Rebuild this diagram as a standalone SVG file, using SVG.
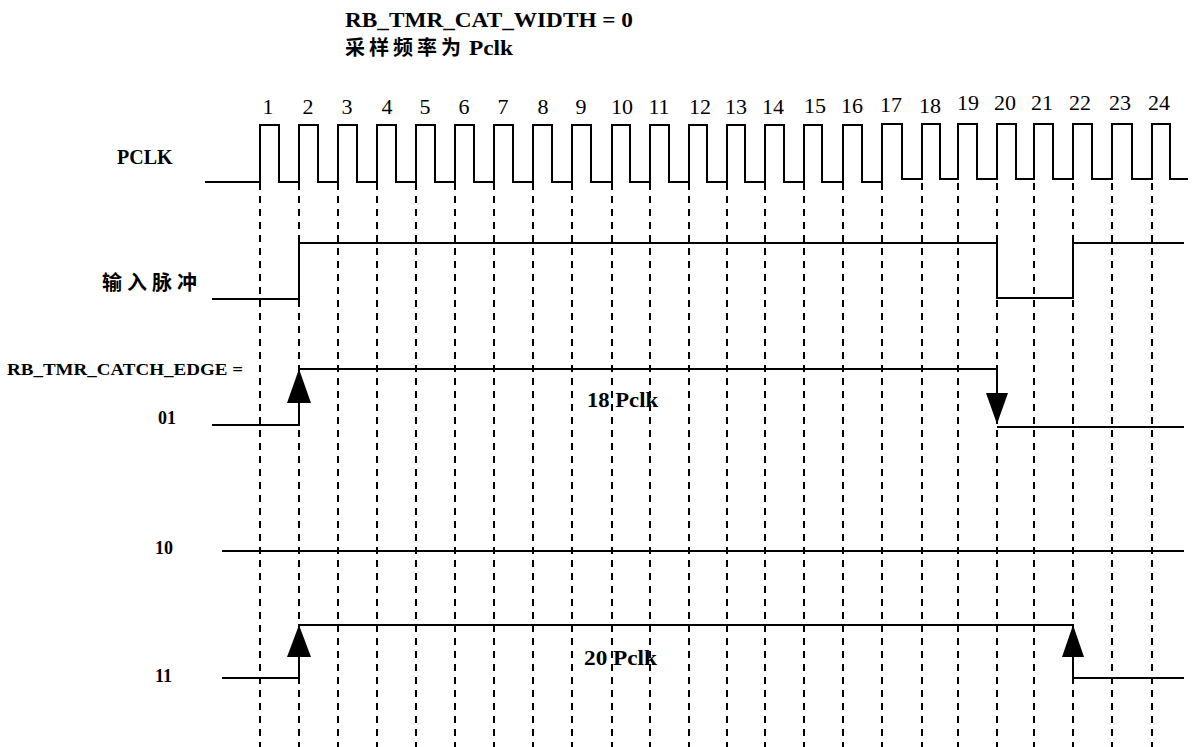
<svg xmlns="http://www.w3.org/2000/svg" width="1196" height="747" viewBox="0 0 1196 747">
<style>
.bg{fill:#fff}
.sig{fill:none;stroke:#000;stroke-width:2;stroke-linejoin:miter}
.grid{fill:none;stroke:#000;stroke-width:2;stroke-dasharray:7 6}
.num{font-family:"Liberation Serif","Times New Roman",serif;font-size:22px;fill:#000;text-anchor:middle}
.lbl{font-family:"Liberation Serif","Times New Roman",serif;font-weight:bold;fill:#000}
.cjk{font-family:"Liberation Serif","Noto Sans CJK SC",serif;font-weight:bold;fill:#000}
.head{fill:#000;stroke:none}
</style>
<rect class="bg" x="0" y="0" width="1196" height="747"/>
<g id="title">
<text class="lbl" x="345" y="27" font-size="21" textLength="288" lengthAdjust="spacingAndGlyphs">RB_TMR_CAT_WIDTH = 0</text>
<text class="cjk" x="345" y="55" font-size="20" letter-spacing="4">采样频率为</text>
<text class="lbl" x="469" y="55" font-size="22" textLength="44" lengthAdjust="spacingAndGlyphs">Pclk</text>
</g>
<g id="grid">
<path class="grid" d="M260,183V747M299,183V747M338,183V747M377,183V747M416,183V747M455,183V747M494,183V747M533,183V747M572,183V747M612,183V747M650,183V747M689,183V747M727,183V747M765,183V747M804,183V747M843,183V747M882,183V747M922,183V747M958,183V747M997,183V747M1034,183V747M1073,183V747M1112,183V747M1152,183V747"/>
</g>
<g id="numbers">
<text class="num" x="268" y="114">1</text>
<text class="num" x="308" y="114">2</text>
<text class="num" x="347" y="114">3</text>
<text class="num" x="387" y="114">4</text>
<text class="num" x="425" y="114">5</text>
<text class="num" x="464" y="114">6</text>
<text class="num" x="503" y="114">7</text>
<text class="num" x="543" y="114">8</text>
<text class="num" x="581" y="114">9</text>
<text class="num" x="622" y="114">10</text>
<text class="num" x="659" y="114">11</text>
<text class="num" x="700" y="114">12</text>
<text class="num" x="736" y="114">13</text>
<text class="num" x="773" y="114">14</text>
<text class="num" x="815" y="113">15</text>
<text class="num" x="852" y="113">16</text>
<text class="num" x="891" y="112">17</text>
<text class="num" x="930" y="113">18</text>
<text class="num" x="968" y="110">19</text>
<text class="num" x="1005" y="110">20</text>
<text class="num" x="1042" y="110">21</text>
<text class="num" x="1080" y="110">22</text>
<text class="num" x="1120" y="110">23</text>
<text class="num" x="1159" y="110">24</text>
</g>
<g id="pclk">
<text class="lbl" x="117" y="164" font-size="20">PCLK</text>
<path class="sig" d="M205,182H260V125H279V182H299V125H318V182H338V125H357V182H377V125H396V182H416V125H435V182H455V125H474V182H494V125H513V182H533V125H552V182H572V125H591V182H612V125H630V182H650V125H669V182H689V125H707V182H727V125H745V182H765V125H784V182H804V125H822V182H843V125H862V182H882V124H902V179H922V124H940V179H958V124H977V179H997V124H1016V179H1034V124H1053V179H1073V124H1092V179H1112V124H1132V179H1152V124H1170V179H1188"/>
</g>
<g id="input">
<text class="cjk" x="102" y="290" font-size="20" letter-spacing="5">输入脉冲</text>
<path class="sig" d="M212,299H299V243H997V298H1073V243H1184"/>
</g>
<g id="edge01">
<text class="lbl" x="7" y="375" font-size="17" textLength="236" lengthAdjust="spacingAndGlyphs">RB_TMR_CATCH_EDGE =</text>
<text class="lbl" x="158" y="424" font-size="18">01</text>
<path class="sig" d="M212,425H299V369H997V395"/>
<path class="sig" d="M997,427H1184"/>
<text class="lbl" x="587" y="407" font-size="21" textLength="71" lengthAdjust="spacingAndGlyphs">18 Pclk</text>
</g>
<g id="edge10">
<text class="lbl" x="155" y="554" font-size="18">10</text>
<path class="sig" d="M222,551H1184"/>
</g>
<g id="edge11">
<text class="lbl" x="155" y="682" font-size="18">11</text>
<path class="sig" d="M222,678H299V625H1073V678H1184"/>
<text class="lbl" x="584" y="665" font-size="21" textLength="73" lengthAdjust="spacingAndGlyphs">20 Pclk</text>
</g>
<g id="arrows">
<polygon class="head" points="299,369 287,403 311,403"/>
<polygon class="head" points="997,424 986,393 1008,393"/>
<polygon class="head" points="299,625 287,657 311,657"/>
<polygon class="head" points="1073,625 1062,657 1084,657"/>
</g>
</svg>
